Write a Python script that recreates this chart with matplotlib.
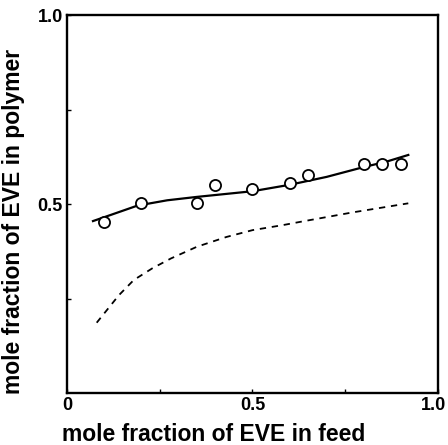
import numpy as np
import matplotlib
matplotlib.use("Agg")
import matplotlib.pyplot as plt
import matplotlib.transforms as mtransforms

plt.rcParams["font.family"] = ["Liberation Sans", "DejaVu Sans"]

# ── Data ──────────────────────────────────────────────────────────────────────
feed_obs = [0.10, 0.20, 0.35, 0.40, 0.50, 0.60, 0.65, 0.80, 0.85, 0.90]
poly_obs = [0.453, 0.504, 0.502, 0.550, 0.539, 0.555, 0.577, 0.606, 0.605, 0.605]

# fitted curve (solid)
feed_fit = [0.07, 0.12, 0.19, 0.27, 0.35, 0.43, 0.50, 0.60, 0.70, 0.80, 0.86, 0.92]
poly_fit = [0.455, 0.472, 0.496, 0.510, 0.519, 0.527, 0.534, 0.551, 0.572, 0.598, 0.612, 0.630]

# reference curve (dashed)
feed_ref = [0.08, 0.14, 0.18, 0.23, 0.28, 0.35, 0.43, 0.50, 0.58, 0.64, 0.77, 0.92]
poly_ref = [0.186, 0.259, 0.299, 0.330, 0.356, 0.387, 0.413, 0.431, 0.444, 0.455, 0.478, 0.502]

fig = plt.figure(figsize=(4.48, 4.45), dpi=100)
ax = fig.add_axes([0.1496, 0.1169, 0.828, 0.849])

ax.plot(feed_fit, poly_fit, color="black", linewidth=1.6, zorder=2)
ax.plot(feed_ref, poly_ref, color="black", linewidth=1.3,
        dashes=(3.5, 3.2), zorder=2)
ax.plot(feed_obs, poly_obs, "o", markersize=8, markerfacecolor="white",
        markeredgecolor="black", markeredgewidth=1.3, zorder=3)

ax.set_xlim(0, 1)
ax.set_ylim(0, 1)
for sp in ax.spines.values():
    sp.set_linewidth(1.7)

ax.set_xticks([0, 0.5, 1.0])
ax.set_xticklabels(["0", "0.5", "1.0"])
ax.set_yticks([0.5, 1.0])
ax.set_yticklabels(["0.5", "1.0"])
ax.set_xticks([0.25, 0.75], minor=True)
ax.set_yticks([0.25, 0.75], minor=True)
ax.tick_params(which="both", direction="in", length=3, width=1)
ax.tick_params(axis="both", which="major", labelsize=13, pad=3)
for lab in ax.get_xticklabels() + ax.get_yticklabels():
    lab.set_fontweight("bold")

# keep the "1.0" on the x axis inside the canvas (it sits at the edge)
last = ax.get_xticklabels()[-1]
last.set_horizontalalignment("right")
last.set_transform(last.get_transform() +
                   mtransforms.ScaledTranslation(8 / 100, 0, fig.dpi_scale_trans))

ax.set_xlabel("mole fraction of EVE in feed", fontsize=16.5, fontweight="bold")
ax.set_ylabel("mole fraction of EVE in polymer", fontsize=16.5, fontweight="bold")
ax.xaxis.set_label_coords(0.395, -0.08)
ax.yaxis.set_label_coords(-0.112, 0.455)

fig.savefig("out.png", dpi=100)
